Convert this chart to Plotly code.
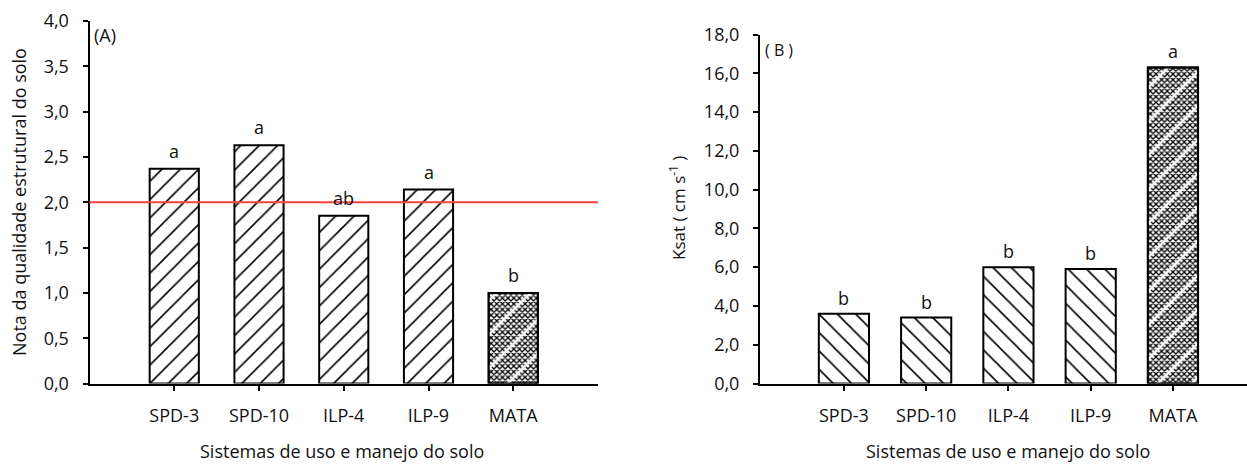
import plotly.graph_objects as go

# Soil use and management systems
categories = ["SPD-3", "SPD-10", "ILP-4", "ILP-9", "MATA"]

# (A) structural quality score and significance letters
nota_values = [2.37, 2.63, 1.85, 2.14, 1.00]
nota_letters = ["a", "a", "ab", "a", "b"]
nota_reference = 2.0
nota_tickvals = [0, 0.5, 1.0, 1.5, 2.0, 2.5, 3.0, 3.5, 4.0]
nota_ticktext = ["0,0", "0,5", "1,0", "1,5", "2,0", "2,5", "3,0", "3,5", "4,0"]

# (B) saturated hydraulic conductivity and significance letters
ksat_values = [3.6, 3.4, 6.0, 5.9, 16.3]
ksat_letters = ["b", "b", "b", "b", "a"]
ksat_tickvals = [0, 2, 4, 6, 8, 10, 12, 14, 16, 18]
ksat_ticktext = ["0,0", "2,0", "4,0", "6,0", "8,0", "10,0", "12,0", "14,0", "16,0", "18,0"]

FONT = "Open Sans"
TXT = "#111111"
fsize = 18

fig = go.Figure()


def hatch(direction):
    n = len(categories)
    return dict(
        shape=[direction] * (n - 1) + ["x"],
        size=[13] * (n - 1) + [4],
        solidity=[0.12] * (n - 1) + [0.55],
        fgcolor="black",
        bgcolor="white",
        fgopacity=1,
        fillmode="replace",
    )


def streaks():
    # white diagonal streaks laid over the dense MATA fill
    return dict(color="rgba(0,0,0,0)", line=dict(color="black", width=2),
                pattern=dict(shape="/", size=24, solidity=0.1, fgcolor="white",
                             bgcolor="rgba(0,0,0,0)", fgopacity=1, fillmode="replace"))


# Panel A bars
fig.add_trace(go.Bar(
    x=categories, y=nota_values, width=0.58,
    marker=dict(color="white", line=dict(color="black", width=2), pattern=hatch("/")),
    xaxis="x", yaxis="y", showlegend=False, hoverinfo="x+y",
))
fig.add_trace(go.Bar(
    x=categories[-1:], y=nota_values[-1:], width=0.58, marker=streaks(),
    xaxis="x", yaxis="y", showlegend=False, hoverinfo="skip",
))

# Panel B bars
fig.add_trace(go.Bar(
    x=categories, y=ksat_values, width=0.61,
    marker=dict(color="white", line=dict(color="black", width=2), pattern=hatch("\\")),
    xaxis="x2", yaxis="y2", showlegend=False, hoverinfo="x+y",
))
fig.add_trace(go.Bar(
    x=categories[-1:], y=ksat_values[-1:], width=0.61, marker=streaks(),
    xaxis="x2", yaxis="y2", showlegend=False, hoverinfo="skip",
))

annotations = []
for c, v, t in zip(categories, nota_values, nota_letters):
    annotations.append(dict(x=c, y=v, xref="x", yref="y", text=t, showarrow=False,
                            yanchor="bottom", yshift=4, font=dict(family=FONT, size=fsize, color=TXT)))
for c, v, t in zip(categories, ksat_values, ksat_letters):
    annotations.append(dict(x=c, y=v, xref="x2", yref="y2", text=t, showarrow=False,
                            yanchor="bottom", yshift=2, font=dict(family=FONT, size=fsize, color=TXT)))

# panel tags
annotations.append(dict(x=92 / 1247, y=1 - 35 / 465, xref="paper", yref="paper", text="(A)",
                        showarrow=False, xanchor="left", yanchor="middle",
                        font=dict(family=FONT, size=fsize, color=TXT)))
annotations.append(dict(x=763 / 1247, y=1 - 50 / 465, xref="paper", yref="paper", text="( B )",
                        showarrow=False, xanchor="left", yanchor="middle",
                        font=dict(family=FONT, size=fsize - 2, color=TXT)))

# axis titles
annotations.append(dict(x=19 / 1247, y=1 - 202 / 465, xref="paper", yref="paper",
                        text="Nota da qualidade estrutural do solo", textangle=-90,
                        showarrow=False, xanchor="center", yanchor="middle",
                        font=dict(family=FONT, size=fsize, color=TXT)))
annotations.append(dict(x=678 / 1247, y=1 - 208 / 465, xref="paper", yref="paper",
                        text="Ksat ( cm s<sup>-1</sup> )", textangle=-90,
                        showarrow=False, xanchor="center", yanchor="middle",
                        font=dict(family=FONT, size=fsize - 1, color=TXT)))
annotations.append(dict(x=342 / 1247, y=0, xref="paper", yref="paper",
                        text="Sistemas de uso e manejo do solo",
                        showarrow=False, xanchor="center", yanchor="bottom",
                        font=dict(family=FONT, size=fsize, color=TXT)))
annotations.append(dict(x=1008 / 1247, y=0, xref="paper", yref="paper",
                        text="Sistemas de uso e manejo do solo",
                        showarrow=False, xanchor="center", yanchor="bottom",
                        font=dict(family=FONT, size=fsize, color=TXT)))

xaxis_common = dict(type="category", showline=True, linecolor="black", linewidth=2,
                    ticks="outside", ticklen=5, tickwidth=2, tickcolor="black",
                    showgrid=False, zeroline=False, ticklabelstandoff=10, automargin=False,
                    tickfont=dict(family=FONT, size=fsize, color=TXT))
yaxis_common = dict(showline=True, linecolor="black", linewidth=2,
                    ticks="outside", ticklen=5, tickwidth=2, tickcolor="black",
                    showgrid=False, zeroline=False, ticklabelstandoff=10, automargin=False,
                    tickfont=dict(family=FONT, size=fsize, color=TXT))

fig.update_layout(
    width=1247, height=465,
    margin=dict(l=0, r=0, t=0, b=0, autoexpand=False),
    paper_bgcolor="white", plot_bgcolor="white",
    barmode="overlay",
    xaxis=dict(domain=[89.5 / 1247, 598 / 1247], range=[-1.0, 5.0], anchor="y", **xaxis_common),
    yaxis=dict(domain=[81.5 / 465, 444 / 465], range=[0, 4], anchor="x",
               tickvals=nota_tickvals, ticktext=nota_ticktext, **yaxis_common),
    xaxis2=dict(domain=[760 / 1247, 1.0], range=[-1.02, 4.9], anchor="y2", **xaxis_common),
    yaxis2=dict(domain=[81.5 / 465, 430.5 / 465], range=[0, 18], anchor="x2",
                tickvals=ksat_tickvals, ticktext=ksat_ticktext, **yaxis_common),
    annotations=annotations,
    shapes=[dict(type="line", xref="x domain", yref="y", x0=0, x1=1,
                 y0=nota_reference, y1=nota_reference,
                 line=dict(color="#ff4040", width=2))],
)

fig.write_html("out.html")
